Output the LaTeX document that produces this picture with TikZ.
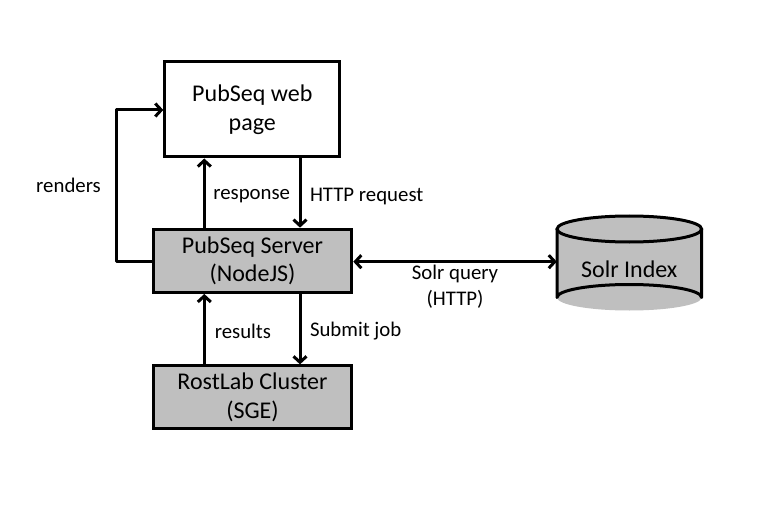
\documentclass[tikz,border=0pt]{standalone}
\usepackage{fontspec}
\setmainfont{Carlito}
\usetikzlibrary{arrows.meta}
\definecolor{boxgrey}{RGB}{191,191,191}
\begin{document}
\begin{tikzpicture}[x=1pt,y=-1pt,
  box/.style={draw, line width=3pt, align=center, inner sep=0pt,
    font=\fontsize{24}{28.5}\selectfont},
  greybox/.style={box, fill=boxgrey},
  conn/.style={line width=3pt, line join=round,
    -{Straight Barb[length=6pt,width=13pt]}},
  biconn/.style={line width=3pt,
    {Straight Barb[length=6pt,width=13pt]}-{Straight Barb[length=6pt,width=13pt]}},
  lbl/.style={font=\fontsize{20.8}{26}\selectfont, inner sep=0pt, align=center}]
\useasboundingbox (0,0) rectangle (768,505);

\node[box, minimum width=175pt, minimum height=95pt] (web) at (252.3,109.5) {PubSeq web\\page};
\node[greybox, minimum width=198.6pt, minimum height=63.3pt] (server) at (252.5,260.8) {PubSeq Server\\(NodeJS)};
\node[greybox, minimum width=198.6pt, minimum height=62.7pt] (cluster) at (252.5,397.2) {RostLab Cluster\\(SGE)};

% Solr cylinder
\fill[boxgrey] (557,229) arc[start angle=180, end angle=360, x radius=72.3, y radius=13]
  -- (701.6,297.5) arc[start angle=0, end angle=180, x radius=72.3, y radius=13] -- cycle;
\fill[boxgrey] (629.3,229) ellipse[x radius=72.3, y radius=13];
\draw[line width=3pt] (629.3,229) ellipse[x radius=72.3, y radius=13];
\draw[line width=3pt, line join=round] (557,229) -- (557,297.5)
  arc[start angle=180, end angle=0, x radius=72.3, y radius=-13] -- (701.6,229);
\node[font=\fontsize{24}{28}\selectfont, minimum width=144.6pt, minimum height=60pt, inner sep=0pt] (solr) at (629.3,269) {Solr Index};

% connectors
\coordinate (loopTop) at (116.7,110);
\draw[conn] (server.west |- 0,261) -| (loopTop) -- (web.west |- loopTop);
\node[lbl, anchor=east] (rend) at (101,185) {renders};

\draw[conn] (server.north -| 204.3,0) -- node[lbl, anchor=west, xshift=7.5pt, yshift=-3pt] {response} (web.south -| 204.3,0);
\draw[conn] (web.south -| 300,0) -- node[lbl, anchor=west, xshift=8.5pt, yshift=-3pt] {HTTP request} (server.north -| 300,0);
\draw[conn] (cluster.north -| 204.3,0) -- node[lbl, anchor=west, xshift=9pt, yshift=-2pt] {results} (server.south -| 204.3,0);
\draw[conn] (server.south -| 300,0) -- node[lbl, anchor=west, xshift=8.5pt, yshift=-2pt] {Submit job} (cluster.north -| 300,0);
\draw[biconn] (server.east |- 0,261.7) -- node[lbl, below=2pt] {Solr query\\(HTTP)} (solr.west |- 0,261.7);
\end{tikzpicture}
\end{document}
